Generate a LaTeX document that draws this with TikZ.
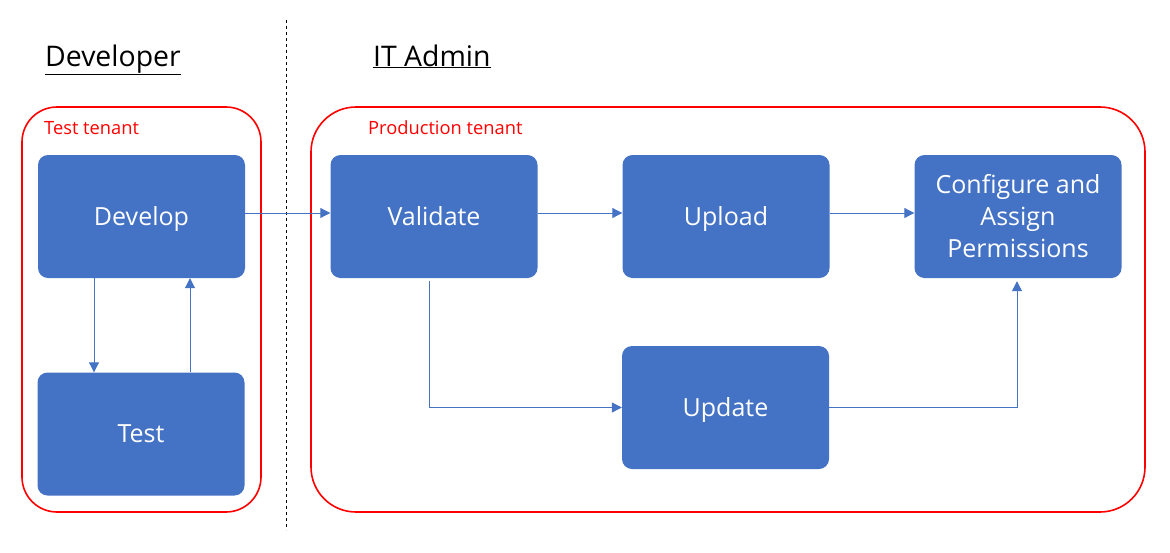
\documentclass[tikz,border=0pt]{standalone}
\usepackage{fontspec}
\setmainfont{Open Sans}
\usetikzlibrary{arrows.meta}
\definecolor{boxblue}{HTML}{4472C4}
\definecolor{tred}{HTML}{FF0000}
\tikzset{
  stepbox/.style={rectangle, rounded corners=10pt, fill=boxblue, draw=none,
    minimum width=207pt, minimum height=123pt, inner sep=0pt,
    text=white, font=\fontsize{25}{32}\selectfont, align=center},
  oneline/.style={text height=17.8pt, text depth=0pt},
  tenant/.style={rectangle, draw=tred, line width=1.6pt, inner sep=0pt},
  tenantlabel/.style={text=tred, font=\fontsize{18.3}{22}\selectfont, anchor=base west, inner sep=0pt},
  heading/.style={font=\fontsize{28.4}{34}\selectfont, anchor=base west, inner sep=0pt},
  flow/.style={draw=boxblue, line width=1pt, -{Triangle[length=10pt,width=10pt]}}
}
\begin{document}
\begin{tikzpicture}[x=1pt,y=-1pt]
\useasboundingbox (0,0) rectangle (1170,552);
% lanes
\draw[dashed, line width=0.9pt] (286,20) -- (286,530);
\node[heading] (devhead) at (45,66) {\underline{Developer}};
\node[heading] (adminhead) at (373,66) {\underline{IT Admin}};
% tenants
\node[tenant, rounded corners=35pt, minimum width=239pt, minimum height=405pt] (testtenant) at (141.5,309.5) {};
\node[tenant, rounded corners=45pt, minimum width=834pt, minimum height=405pt] (prodtenant) at (728,309.5) {};
\node[tenantlabel] (testlbl) at (44,134) {Test tenant};
\node[tenantlabel] (prodlbl) at (368,134) {Production tenant};
% steps
\node[stepbox, oneline] (develop) at (141.5,216.5) {Develop};
\node[stepbox, oneline] (test) at (141,434) {Test};
\node[stepbox, oneline] (validate) at (434,216.5) {Validate};
\node[stepbox, oneline] (upload) at (726,216.5) {Upload};
\node[stepbox] (configure) at (1018,216.5) {Configure and\\Assign\\Permissions};
\node[stepbox, oneline] (update) at (725.5,407.5) {Update};
% connectors
\draw[flow] ([yshift=3.5pt]develop.east) -- ([yshift=3.5pt]validate.west);
\draw[flow] ([yshift=3.5pt]validate.east) -- ([yshift=3.5pt]upload.west);
\draw[flow] ([yshift=3.5pt]upload.east) -- ([yshift=3.5pt]configure.west);
\draw[flow] ([xshift=-47.5pt]develop.south) -- ([xshift=-47pt]test.north);
\draw[flow] ([xshift=49pt]test.north) -- ([xshift=48.5pt]develop.south);
\draw[flow] ([xshift=-5pt,yshift=-3pt]validate.south) |- (update.west);
\draw[flow] (update.east) -| ([xshift=-1pt,yshift=-3pt]configure.south);
\end{tikzpicture}
\end{document}
